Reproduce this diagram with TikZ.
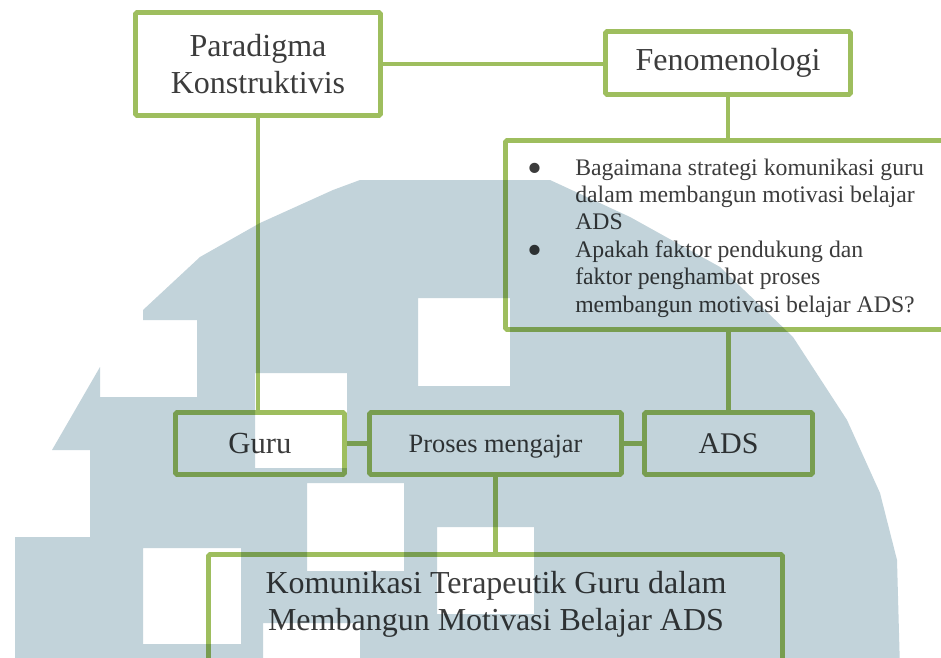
\documentclass[tikz,border=0pt]{standalone}
\usepackage{fontspec}
\setmainfont{Liberation Serif}
\usetikzlibrary{positioning}
\definecolor{olivegreen}{RGB}{158,190,94}
\definecolor{logoblue}{RGB}{194,211,218}
\definecolor{textgray}{RGB}{60,60,60}
\newcommand{\bigbullet}{\raisebox{-5.6pt}{\fontsize{32}{32}\selectfont\textbullet}}
\tikzset{
  box/.style      = {draw=olivegreen, line width=3.6pt, fill=white, rounded corners=1.2pt,
                     inner sep=0pt, text=textgray, align=center},
  link/.style     = {draw=olivegreen, line width=3.6pt},
  bigfont/.style  = {font=\fontsize{24}{27.6}\selectfont},
  midfont/.style  = {font=\fontsize{23}{27}\selectfont},
  listfont/.style = {font=\fontsize{17.8}{20.6}\selectfont},
}

\begin{document}
\begin{tikzpicture}[x=0.75pt,y=-0.75pt]
  \useasboundingbox (0,0) rectangle (941,657);
  \clip (0,0) rectangle (941,657);

  % ---------------- top row ----------------------------------------------
  \node[box,bigfont,minimum width=183.75pt,minimum height=77.25pt] (paradigma) at (258,64)
       {Paradigma\\ Konstruktivis};
  \node[box,bigfont,minimum width=183.75pt,minimum height=47.25pt] (fenomenologi) at (728,63)
       {Fenomenologi};

  % ---------------- research questions -----------------------------------
  \node[box,minimum width=340.9pt,minimum height=141.75pt] (pertanyaan) at (732.75,235) {};
  \node[listfont,text=textgray,inner sep=0pt,anchor=base west] (pertanyaanteks) at (527,175)
       {\begin{tabular}[t]{@{}p{36pt}@{}l@{}}
          \bigbullet & Bagaimana strategi komunikasi guru\\
                     & dalam membangun motivasi belajar\\
                     & ADS\\
          \bigbullet & Apakah faktor pendukung dan\\
                     & faktor penghambat proses\\
                     & membangun motivasi belajar ADS?
        \end{tabular}};

  % ---------------- middle row -------------------------------------------
  \node[box,midfont,text depth=0pt,minimum width=126.75pt,minimum height=46.5pt] (guru) at (260,443.5) {Guru};
  \node[box,font=\fontsize{19.8}{23}\selectfont,text depth=0pt,minimum width=189pt,minimum height=46.5pt]
       (proses) at (495.5,443.5) {Proses mengajar};
  \node[box,font=\fontsize{22.5}{26}\selectfont,text depth=0pt,minimum width=126pt,minimum height=46.5pt]
       (ads) at (728.5,443.5) {ADS};

  % ---------------- result -----------------------------------------------
  \node[box,minimum width=430.5pt,minimum height=124.1pt] (komunikasi) at (495.5,637.25) {};
  \node[bigfont,text=textgray,align=center,inner sep=0pt] (komunikasiteks) at (496,604)
       {Komunikasi Terapeutik Guru dalam\\ Membangun Motivasi Belajar ADS};

  % ---------------- connectors -------------------------------------------
  \draw[link] (paradigma.east) -- (paradigma.east -| fenomenologi.west);
  \draw[link] (paradigma.south) -- (paradigma.south |- guru.north);
  \draw[link] (fenomenologi.south) -- (fenomenologi.south |- pertanyaan.north);
  \draw[link] (pertanyaan.south -| ads.north) -- (ads.north);
  \draw[link] (guru.east) -- (proses.west);
  \draw[link] (proses.east) -- (ads.west);
  \draw[link] (proses.south) -- (proses.south |- komunikasi.north);

  % ---------------- watermark --------------------------------------------
  \begin{scope}[blend mode=multiply]
    \fill[logoblue,even odd rule]
      (15,670) -- (15,537) -- (90,537) -- (90,450) -- (52,450) -- (100,367) -- (100,397)
      -- (197,397) -- (197,320) -- (143,320) -- (143,310) -- (200,257) -- (260,223)
      -- (333,190) -- (360,180) -- (550,180) -- (630,217) -- (720,267) -- (793,337)
      -- (847,420) -- (880,493) -- (897,560) -- (900,670) -- cycle
      (418,298) rectangle (510,386)
      (255,373) rectangle (347,468)
      (307,483) rectangle (404,571)
      (437,527) rectangle (534,614)
      (143,548) rectangle (241,644)
      (263,623) rectangle (360,670);
  \end{scope}
\end{tikzpicture}
\end{document}
